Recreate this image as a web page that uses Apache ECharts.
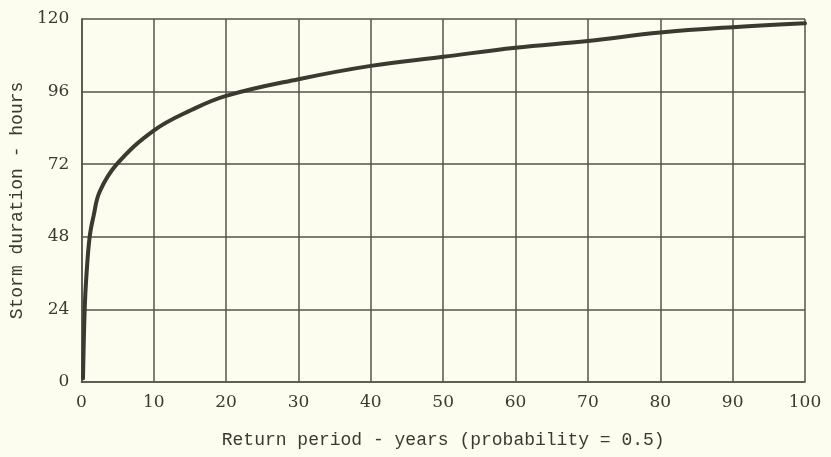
<!DOCTYPE html>
<html>
<head>
<meta charset="utf-8">
<script src="https://cdn.jsdelivr.net/npm/echarts@6/dist/echarts.min.js"></script>
<style>
  html, body { margin: 0; padding: 0; background: #fcfcef; }
  #chart { width: 831px; height: 457px; }
</style>
</head>
<body>
<div id="chart"></div>
<script>
// Return period (years) and storm duration (hours) along the curve
const returnPeriod = [0.23, 0.46, 0.69, 1.15, 1.7, 2.53, 4.9, 10, 15.2, 20, 30, 40, 50, 60, 70, 80, 90, 100];
const stormDuration = [1.2, 24.0, 34.8, 48.0, 55.0, 62.9, 72.0, 83.1, 89.9, 94.6, 100.1, 104.5, 107.5, 110.5, 112.7, 115.5, 117.3, 118.6];

const xTicks = [0, 10, 20, 30, 40, 50, 60, 70, 80, 90, 100];
const yTicks = [0, 24, 48, 72, 96, 120];

const ink = '#3a3a30';
const gridInk = '#55554a';
const tickFont = 'DejaVu Serif';
const nameFont = 'Liberation Mono';

const chart = echarts.init(document.getElementById('chart'), null, { renderer: 'canvas' });

chart.setOption({
  backgroundColor: '#fcfcef',
  animation: false,
  grid: { left: 81, right: 26, top: 19, bottom: 75, containLabel: false },
  xAxis: {
    type: 'value',
    min: xTicks[0],
    max: xTicks[xTicks.length - 1],
    interval: xTicks[1] - xTicks[0],
    name: 'Return period - years (probability = 0.5)',
    nameLocation: 'middle',
    nameGap: 49,
    nameTextStyle: { fontFamily: nameFont, fontSize: 18, color: ink },
    axisLine: { show: true, lineStyle: { color: gridInk, width: 1.5 } },
    axisTick: { show: false },
    axisLabel: { fontFamily: tickFont, fontSize: 17, color: ink, margin: 12 },
    splitLine: { show: true, lineStyle: { color: gridInk, width: 1.5 } }
  },
  yAxis: {
    type: 'value',
    min: yTicks[0],
    max: yTicks[yTicks.length - 1],
    interval: yTicks[1] - yTicks[0],
    name: 'Storm duration - hours',
    nameLocation: 'middle',
    nameGap: 47,
    nameTextStyle: { fontFamily: nameFont, fontSize: 18, color: ink },
    axisLine: { show: true, lineStyle: { color: gridInk, width: 1.5 } },
    axisTick: { show: false },
    axisLabel: { fontFamily: tickFont, fontSize: 17, color: ink, margin: 12 },
    splitLine: { show: true, lineStyle: { color: gridInk, width: 1.5 } }
  },
  series: [{
    type: 'line',
    data: returnPeriod.map((x, i) => [x, stormDuration[i]]),
    smooth: 0.4,
    showSymbol: false,
    lineStyle: { color: ink, width: 4, cap: 'round' }
  }]
});
</script>
</body>
</html>
